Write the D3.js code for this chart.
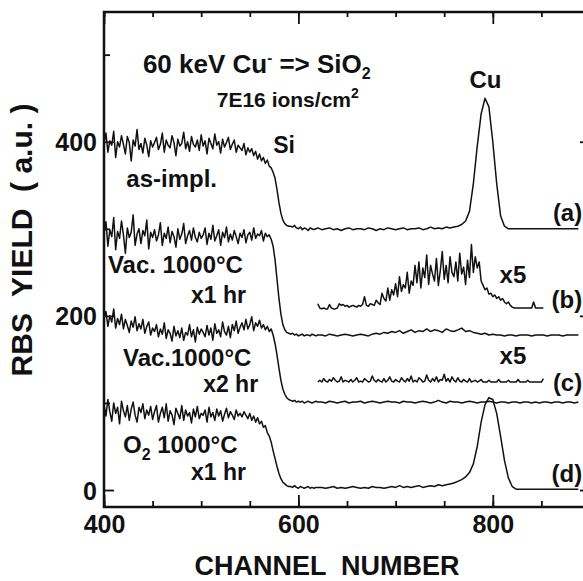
<!DOCTYPE html>
<html>
<head>
<meta charset="utf-8">
<script src="https://cdn.jsdelivr.net/npm/d3@7"></script>
<style>
  body { margin: 0; background: #fff; }
  text { font-family: "Liberation Sans", Arial, sans-serif; font-weight: bold; fill: #111; }
</style>
</head>
<body>
<div id="main"></div>
<script>
// channel grids (fine step over the Si edge, coarser after it)
const chLow = d3.range(400, 621, 2);
const chHigh = d3.range(624, 889, 4);
const chInset = d3.range(620, 853, 2);

// (a) as-implanted, offset 300
const specA = [
  398,410,388,401,396,412,382,400,394,407,397,386,406,399,378,402,395,414,391,398,387,404,396,383,401,394,
  399,405,391,397,410,388,402,396,393,407,399,384,403,395,398,411,392,400,389,406,397,394,402,390,408,
  395,401,386,404,398,392,409,396,400,387,403,394,399,405,391,397,402,388,396,393,
  390,398,385,393,388,392,384,389,380,386,378,382,375,379,372,
  370,365,358,345,330,318,310,306,304,303,
  303,302,304,301,300,302,299,301,300,298,301,300,299,300,301,
  // 624..
  299,300,301,299,300,298,300,301,299,300,300,299,301,300,298,300,299,301,300,299,300,301,299,300,300,301,299,300,302,300,301,300,302,301,
  302,303,305,309,320,352,395,432,450,440,400,352,315,303,300,300,
  300,300,300,300,300,300,300,300,300,300,300,300,300,300,300,300,300
];

// (b) vacuum 1000C 1 hr
const specB = [
  295,308,280,299,291,313,276,297,289,309,293,272,301,290,296,316,281,294,300,283,298,292,310,277,296,290,
  299,286,293,307,281,295,289,302,284,297,291,279,300,288,294,306,283,292,298,287,301,290,285,296,289,
  293,301,282,295,288,304,286,292,299,281,296,290,302,285,294,287,298,291,283,295,
  290,299,284,293,296,287,301,289,294,292,298,286,295,291,293,288,
  280,264,242,220,202,190,184,181,180,
  179,180,178,179,177,178,179,177,178,178,177,179,178,177,178,
  178,177,179,178,177,178,179,178,177,178,179,178,177,179,
  180,179,181,180,182,181,183,180,182,184,181,183,182,185,182,184,183,181,185,183,182,184,186,182,183,181,180,179,180,178,179,
  178,178,177,178,178,177,178,178,178,177,178,178,178,177,178,178,178,177,178,178,178,178
];
// (b) Cu region x5
const insetB = [
  214,209,208,209,208,208,213,209,208,208,209,214,212,213,211,212,210,211,212,211,210,212,211,213,222,212,211,214,213,212,218,
  215,213,226,220,217,232,218,230,224,237,222,245,228,236,232,250,226,240,235,258,
  238,262,232,255,244,270,236,258,248,240,266,235,252,274,242,258,238,268,250,245,262,240,272,248,256,236,264,244,282,250,268,255,
  262,240,235,230,232,225,226,222,
  224,220,222,218,220,216,214,216,212,210,209,209,209,209,209,209,209,209,209,209,216,209,209,209,209,209
];

// (c) vacuum 1000C 2 hr
const specC = [
  198,205,188,200,193,208,186,197,190,202,185,196,189,181,194,187,199,183,191,185,196,180,188,193,178,186,
  182,190,176,185,179,192,174,184,180,171,188,177,183,175,186,172,181,178,190,176,184,170,187,179,185,
  181,176,189,178,186,172,191,180,184,176,193,182,178,188,175,190,183,194,180,187,
  192,184,196,185,190,199,183,192,188,195,186,190,184,188,182,185,
  178,168,155,140,126,116,110,106,104,
  103,102,103,101,102,101,102,100,101,102,101,100,101,102,101,
  101,100,102,101,100,101,102,100,101,101,
  102,100,101,102,101,100,101,102,101,101,
  100,102,101,101,100,101,102,101,100,101,
  103,101,100,102,101,101,100,101,102,101,
  100,101,101,102,101,100,101,101,100,101,
  101,100,101,101,100,101,100,101,101,100,
  101,101,100,101,101,100,101
];
const insetC = [
  124,126,124,128,125,124,127,125,129,126,124,125,130,124,126,125,124,127,124,126,129,124,125,124,128,126,124,125,131,126,124,127,125,124,128,124,126,130,125,124,127,
  125,124,129,126,124,128,125,131,124,126,124,129,127,124,125,132,126,124,128,125,130,124,127,126,133,125,128,124,130,126,124,129,125,124,127,125,124,128,124,125,126,124,125,127,124,
  124,124,126,124,124,124,124,127,124,124,124,124,126,124,124,124,124,127,124,124,124,124,126,124,124,124,124,124,124,124,128
];

// (d) O2 1000C 1 hr
const specD = [
  98,85,104,90,79,100,88,95,76,102,91,84,97,80,93,101,86,78,95,89,99,82,92,86,96,81,
  90,97,78,88,95,83,99,79,91,86,75,94,88,82,97,80,92,85,89,77,93,84,96,82,88,
  86,92,78,95,84,89,80,93,85,91,79,87,94,83,90,86,81,92,85,88,
  84,90,86,82,88,80,85,78,83,76,79,72,74,66,62,55,
  45,36,27,19,13,9,7,5,4,
  4,3,5,3,2,4,3,2,3,4,2,3,2,3,3,
  3,2,3,4,2,3,2,3,4,3,2,3,2,4,3,3,2,3,4,3,5,3,4,3,4,5,3,4,5,4,6,5,6,7,
  8,10,12,15,20,30,50,78,98,106,104,88,62,34,14,4,1,
  1,1,1,1,1,1,1,1,1,1,1,1,1,1,1,1
];

const xMinor = d3.range(400, 901, 50);
const xMajor = [400, 600, 800, 900];
const yMinor = [100, 300, 500];
const yMajor = [0, 200, 400];

const width = 583;
const height = 581;

const x = d3.scaleLinear().domain([400, 900]).range([104, 590]);
const y = d3.scaleLinear().domain([-19.5, 549]).range([507, 12]);

const svg = d3.select("#main")
  .append("svg")
  .attr("width", width)
  .attr("height", height);

const chAll = chLow.concat(chHigh);
const line = d3.line().x(d => x(d[0])).y(d => y(d[1]));

const spectra = [specA, specB, specC, specD].map(s => chAll.map((c, i) => [c, s[i]]));
const insets = [insetB, insetC].map(s => chInset.map((c, i) => [c, s[i]]));

svg.selectAll("path.spec")
  .data(spectra.concat(insets))
  .enter()
  .append("path")
  .attr("class", "spec")
  .attr("d", line)
  .attr("fill", "none")
  .attr("stroke", "#111")
  .attr("stroke-width", 1.5)
  .attr("stroke-linejoin", "round");

// frame
svg.append("rect")
  .attr("x", x(400)).attr("y", y(549))
  .attr("width", x(900) - x(400)).attr("height", y(-19.5) - y(549))
  .attr("fill", "none").attr("stroke", "#111").attr("stroke-width", 2.5);

function tickAxis(axis, values, size, transform, labels) {
  const g = svg.append("g")
    .attr("transform", transform)
    .call(axis.tickValues(values).tickSize(-size).tickPadding(8)
      .tickFormat(labels ? d3.format("d") : ""));
  g.select(".domain").remove();
  g.selectAll(".tick line").attr("stroke", "#111").attr("stroke-width", 1.8);
  g.selectAll(".tick text").attr("font-size", 25).attr("fill", "#111")
    .style("font-family", '"Liberation Sans", Arial, sans-serif').style("font-weight", "bold");
  return g;
}

tickAxis(d3.axisBottom(x), xMinor, 6, `translate(0,${y(-19.5)})`, false);
tickAxis(d3.axisBottom(x), [400, 600, 800], 12, `translate(0,${y(-19.5)})`, true);
tickAxis(d3.axisTop(x), xMinor, 5, `translate(0,${y(549)})`, false);
tickAxis(d3.axisTop(x), xMajor, 12, `translate(0,${y(549)})`, false);
tickAxis(d3.axisLeft(y), yMinor, 6, `translate(${x(400)},0)`, false);
tickAxis(d3.axisLeft(y), yMajor, 10, `translate(${x(400)},0)`, true)
  .selectAll(".tick text").attr("dy", "0.36em").attr("x", -7);
tickAxis(d3.axisRight(y), yMinor, 6, `translate(${x(900)},0)`, false);
tickAxis(d3.axisRight(y), yMajor, 10, `translate(${x(900)},0)`, false);

// axis titles
svg.append("text")
  .attr("x", 327).attr("y", 575)
  .attr("text-anchor", "middle")
  .attr("font-size", 27)
  .attr("xml:space", "preserve")
  .text("CHANNEL  NUMBER");

svg.append("text")
  .attr("transform", "translate(32,240) rotate(-90)")
  .attr("text-anchor", "middle")
  .attr("font-size", 30)
  .attr("xml:space", "preserve")
  .text("RBS  YIELD  ( a.u. )");

// annotations, placed in data coordinates
function label(ch, val, size, anchor) {
  return svg.append("text").attr("x", x(ch)).attr("y", y(val))
    .attr("font-size", size).attr("text-anchor", anchor || "start");
}

const t1 = label(440, 479, 26);
t1.append("tspan").text("60 keV Cu");
t1.append("tspan").attr("dy", -10).attr("font-size", 15).text("-");
t1.append("tspan").attr("dy", 10).text(" => SiO");
t1.append("tspan").attr("dy", 6).attr("font-size", 16).text("2");

const t2 = label(516, 440, 21);
t2.append("tspan").text("7E16 ions/cm");
t2.append("tspan").attr("dy", -9).attr("font-size", 14).text("2");

label(776, 462, 24).text("Cu");
label(574, 387, 23).text("Si");
label(423, 348, 24).text("as-impl.");
label(892, 309, 24, "end").text("(a)");

label(404, 249, 24).text("Vac. 1000°C");
label(489.5, 215, 23).text("x1 hr");
label(807, 238, 24).text("x5");
label(892, 209, 24, "end").text("(b)");

label(419.5, 143, 24).text("Vac.1000°C");
label(502, 113, 23).text("x2 hr");
label(807, 145, 24).text("x5");
label(892, 114, 24, "end").text("(c)");

const t3 = label(419.5, 42, 24);
t3.append("tspan").text("O");
t3.append("tspan").attr("dy", 7).attr("font-size", 16).text("2");
t3.append("tspan").attr("dy", -7).text(" 1000°C");
label(489.5, 11.5, 23).text("x1 hr");
label(892, 9, 24, "end").text("(d)");
</script>
</body>
</html>
